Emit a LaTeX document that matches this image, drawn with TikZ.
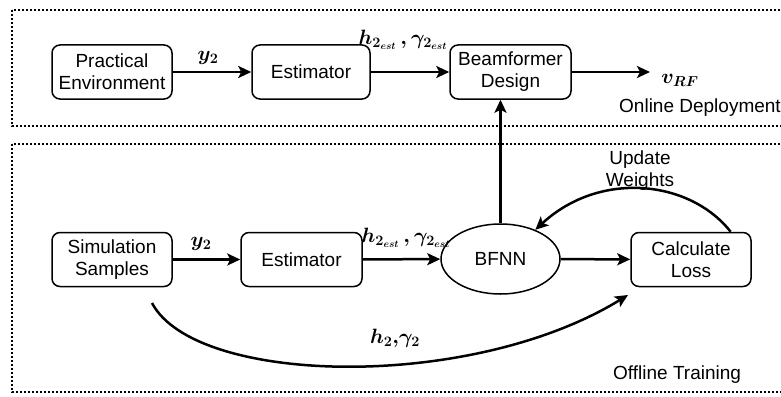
\documentclass[tikz,border=0pt]{standalone}
\usepackage[no-math]{fontspec}
\setmainfont{Liberation Sans}
\usetikzlibrary{shapes.geometric,arrows.meta}
\begin{document}
\begin{tikzpicture}[x=1pt,y=-1pt,
  box/.style={draw, rounded corners=8pt, line width=1.5pt, minimum width=120pt, minimum height=54pt, align=center, inner sep=0pt, font=\fontsize{19}{22}\selectfont},
  oval/.style={draw, ellipse, line width=1.5pt, minimum width=119pt, minimum height=70pt, inner sep=0pt, font=\fontsize{19}{22}\selectfont},
  conn/.style={line width=2.5pt, -{Stealth[length=13pt,width=12pt,inset=3pt]}},
  region/.style={line width=2.6pt, dash pattern=on 2.4pt off 1.6pt},
  lab/.style={font=\fontsize{20}{22}\selectfont\boldmath, inner sep=0pt},
  txt/.style={font=\fontsize{19}{22}\selectfont, inner sep=0pt, align=center}]
\useasboundingbox (0,0) rectangle (781,396);
\clip (0,0) rectangle (781,396);
% regions
\draw[region] (12,10) rectangle (800,126);
\draw[region] (12,144) rectangle (800,392);
\node[txt, anchor=west] (online) at (619,108) {Online Deployment};
\node[txt, anchor=west] (offline) at (613,375) {Offline Training};
% top row
\node[box] (pe) at (112,72) {Practical\\Environment};
\node[box, minimum width=118pt] (est1) at (311,72) {Estimator};
\node[box, minimum width=121pt] (bd) at (510.5,72) {Beamformer\\Design};
\coordinate (vout) at (650,72);
\node[lab] (vrf) at (680,80) {$v_{RF}$};
\draw[conn] (pe) -- (est1);
\node[lab] (y2a) at (208,58) {$y_2$};
\draw[conn] (est1) -- (bd);
\node[lab] (hest1) at (403,40) {$h_{2_{est}}\,,\gamma_{2_{est}}$};
\draw[conn] (bd) -- (vout);
% bottom row
\node[box] (ss) at (112,259.5) {Simulation\\Samples};
\node[box, minimum width=121pt] (est2) at (301.5,259.5) {Estimator};
\node[oval] (bfnn) at (500.5,259) {BFNN};
\node[box] (cl) at (691,259.5) {Calculate\\Loss};
\draw[conn] (ss) -- (est2);
\node[lab] (y2b) at (201,244) {$y_2$};
\draw[conn] (est2) -- (bfnn);
\node[lab] (hest2) at (406,238) {$h_{2_{est}}\,,\gamma_{2_{est}}$};
\draw[conn] (bfnn) -- (cl);
\draw[conn] (bfnn.north) -- (bfnn.north |- bd.south);
% update weights
\draw[conn] (cl.35) .. controls (690,180) and (600,170) .. (bfnn.40);
\node[txt] (uw) at (640,171) {Update\\Weights};
% true channel
\coordinate (cs) at (152,303);
\coordinate (ce) at (628,295);
\draw[conn] (cs) .. controls (195,385) and (470,392) .. (ce);
\node[lab] (h2) at (395,338) {$h_2,\!\gamma_2$};
\end{tikzpicture}
\end{document}
